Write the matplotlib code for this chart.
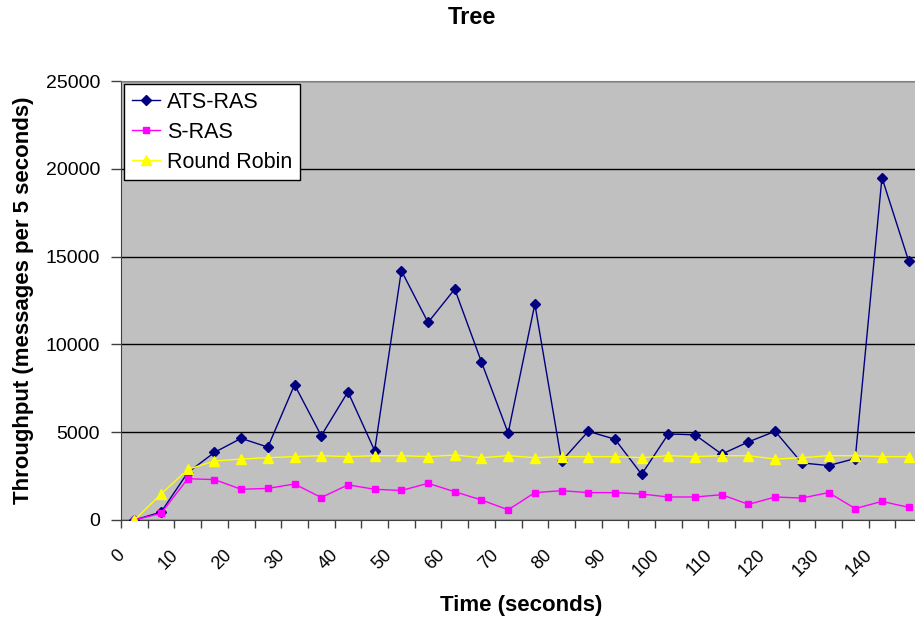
import matplotlib
matplotlib.use('Agg')
import matplotlib.pyplot as plt
from matplotlib.transforms import ScaledTranslation
import numpy as np

plt.rcParams['font.family'] = ['Liberation Sans', 'DejaVu Sans']

# time in seconds, one category every 5 s
time_s = [0, 5, 10, 15, 20, 25, 30, 35, 40, 45, 50, 55, 60, 65, 70,
          75, 80, 85, 90, 95, 100, 105, 110, 115, 120, 125, 130, 135, 140, 145]

ats_ras = [0, 450, 2700, 3850, 4650, 4150, 7700, 4800, 7300, 3950,
           14200, 11250, 13150, 9000, 4950, 12300, 3350, 5050, 4600, 2600,
           4900, 4850, 3750, 4450, 5050, 3250, 3100, 3500, 19500, 14750]
s_ras = [0, 380, 2350, 2300, 1750, 1800, 2050, 1280, 2000, 1750,
         1680, 2090, 1610, 1140, 580, 1560, 1670, 1560, 1560, 1480,
         1310, 1310, 1440, 890, 1310, 1250, 1560, 650, 1060, 720]
round_robin = [0, 1480, 2880, 3360, 3470, 3550, 3610, 3660, 3610, 3660,
               3660, 3610, 3700, 3550, 3660, 3550, 3610, 3610, 3610, 3550,
               3660, 3610, 3660, 3660, 3470, 3550, 3660, 3660, 3610, 3610]

y_ticks = [0, 5000, 10000, 15000, 20000, 25000]

W, H = 915, 617
fig = plt.figure(figsize=(W / 100, H / 100), dpi=100)
# plot area runs past the right edge, as in the original screenshot
ax = fig.add_axes([121 / W, 1 - 520 / H, 801 / W, 439 / H])
ax.set_facecolor('#c0c0c0')

x = np.arange(len(time_s))
ax.plot(x, ats_ras, color='#000080', lw=1, marker='D', ms=5, label='ATS-RAS', zorder=3)
ax.plot(x, s_ras, color='#ff00ff', lw=1, marker='s', ms=5, label='S-RAS', zorder=4)
ax.plot(x, round_robin, color='#ffff00', lw=1, marker='^', ms=6.5, label='Round Robin', zorder=5)

ax.set_xlim(-0.5, len(time_s) - 0.5)
ax.set_ylim(0, 25000)

# y axis
ax.set_yticks(y_ticks)
ax.set_yticklabels([str(v) for v in y_ticks], fontsize=14)
ax.tick_params(axis='y', length=7, width=1, color='#404040', pad=8)
ax.grid(axis='y', color='black', lw=1, zorder=1)
ax.set_axisbelow(True)

# x axis: tick marks between categories, labels every other category
ax.set_xticks(np.arange(-0.5, len(time_s), 1.0), minor=True)
ax.tick_params(axis='x', which='minor', length=6, width=1, color='#404040')
ax.set_xticks(x[::2])
ax.set_xticklabels([str(t) for t in time_s[::2]], fontsize=13, rotation=45,
                   ha='right', va='top')
ax.tick_params(axis='x', which='major', length=0, pad=19)
shift = ScaledTranslation(-6 / 100, 0, fig.dpi_scale_trans)
for lbl in ax.get_xticklabels():
    lbl.set_transform(lbl.get_transform() + shift)

for side in ['left', 'bottom']:
    ax.spines[side].set_color('#404040')
ax.spines['top'].set_color('#808080')
ax.spines['right'].set_visible(False)

ax.set_xlabel('Time (seconds)', fontsize=16, fontweight='bold', va='center')
ax.xaxis.set_label_coords(0.5, (12 / H - (1 - 520 / H)) / (439 / H))
ax.set_ylabel('Throughput (messages per 5 seconds)', fontsize=16,
              fontweight='bold', va='center')
ax.yaxis.set_label_coords((24 / W - 121 / W) / (801 / W), 0.5)

fig.text(472 / W, 1 - 17 / H, 'Tree', fontsize=17, fontweight='bold',
         ha='center', va='center')

leg = ax.legend(loc='upper left', fontsize=15.5, frameon=True, fancybox=False,
                edgecolor='black', framealpha=1, borderaxespad=0.15,
                handlelength=1.3, handletextpad=0.35, labelspacing=0.42,
                borderpad=0.35)
leg.get_frame().set_linewidth(1)
leg.set_zorder(10)

fig.savefig('out.png', dpi=100)
